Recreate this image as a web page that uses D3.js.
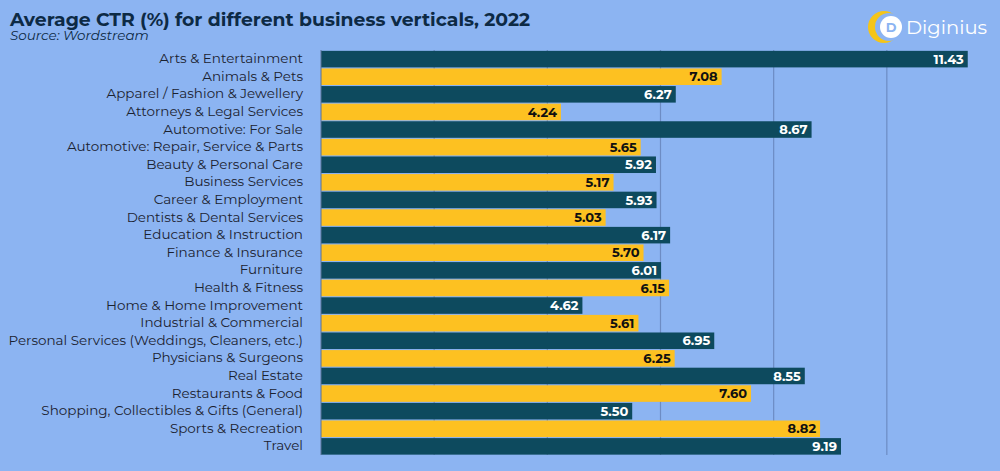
<!DOCTYPE html>
<html><head><meta charset="utf-8">
<script src="https://cdn.jsdelivr.net/npm/d3@7"></script>
<style>
html,body{margin:0;padding:0;background:#8cb4f2;}
svg{display:block;}
</style></head><body>
<svg id="chart" width="1000" height="471"></svg>
<script>
const categories = ["Arts & Entertainment","Animals & Pets","Apparel / Fashion & Jewellery","Attorneys & Legal Services","Automotive: For Sale","Automotive: Repair, Service & Parts","Beauty & Personal Care","Business Services","Career & Employment","Dentists & Dental Services","Education & Instruction","Finance & Insurance","Furniture","Health & Fitness","Home & Home Improvement","Industrial & Commercial","Personal Services (Weddings, Cleaners, etc.)","Physicians & Surgeons","Real Estate","Restaurants & Food","Shopping, Collectibles & Gifts (General)","Sports & Recreation","Travel"];
const values = [11.43,7.08,6.27,4.24,8.67,5.65,5.92,5.17,5.93,5.03,6.17,5.70,6.01,6.15,4.62,5.61,6.95,6.25,8.55,7.60,5.50,8.82,9.19];
const gridTicks = [2,4,6,8,10];

const svg = d3.select("#chart");
const font = "Montserrat, 'Noto Sans', 'Open Sans', sans-serif";
const x = d3.scaleLinear().domain([0,12]).range([321,1000]);
const y = d3.scaleBand().domain(categories).range([50.5,455]).paddingInner(0.06).paddingOuter(0.02);

svg.append("rect").attr("width",1000).attr("height",471).attr("fill","#8cb4f2");

// gridlines
svg.append("g").selectAll("line").data(gridTicks).join("line")
  .attr("x1",d=>x(d)).attr("x2",d=>x(d)).attr("y1",50).attr("y2",455)
  .attr("stroke","#6d8cc4").attr("stroke-width",1.2);

// bars
svg.append("g").selectAll("rect").data(values).join("rect")
  .attr("x",x(0)).attr("y",(d,i)=>y(categories[i]))
  .attr("width",d=>x(d)-x(0)).attr("height",y.bandwidth())
  .attr("fill",(d,i)=>i%2===0?"#0d4a5e":"#fdc121");

// axis line
svg.append("line").attr("x1",x(0)).attr("x2",x(0)).attr("y1",50).attr("y2",455)
  .attr("stroke","#5b7396").attr("stroke-width",1);

// value labels
svg.append("g").selectAll("text").data(values).join("text")
  .attr("x",d=>x(d)-4).attr("y",(d,i)=>y(categories[i])+y.bandwidth()/2)
  .attr("dy","0.36em").attr("text-anchor","end")
  .attr("font-family",font).attr("font-weight","bold").attr("font-size",13)
  .attr("fill",(d,i)=>i%2===0?"#ffffff":"#111111")
  .text(d=>d.toFixed(2));

// category labels
svg.append("g").selectAll("text").data(categories).join("text")
  .attr("x",303).attr("y",d=>y(d)+y.bandwidth()/2)
  .attr("dy","0.3em").attr("text-anchor","end")
  .attr("font-family",font).attr("font-size",13.5).attr("fill","#1b2230")
  .text(d=>d);

// title
svg.append("text").attr("x",10).attr("y",26)
  .attr("font-family",font).attr("font-weight","bold").attr("font-size",18.8)
  .attr("fill","#0d2a45").text("Average CTR (%) for different business verticals, 2022");
svg.append("text").attr("x",10).attr("y",40)
  .attr("font-family",font).attr("font-style","italic").attr("font-size",13.5)
  .attr("fill","#0d2a45").text("Source: Wordstream");

// logo
const lg = svg.append("g");
lg.append("circle").attr("cx",884).attr("cy",27).attr("r",16).attr("fill","#f5c518");
lg.append("circle").attr("cx",889).attr("cy",27).attr("r",14).attr("fill","#8cb4f2");
lg.append("circle").attr("cx",891).attr("cy",27).attr("r",11).attr("fill","#ffffff");
lg.append("text").attr("x",891).attr("y",27).attr("dy","0.36em").attr("text-anchor","middle")
  .attr("font-family",font).attr("font-weight","bold").attr("font-size",13).attr("fill","#8cb4f2").text("D");
lg.append("text").attr("x",906).attr("y",34)
  .attr("font-family",font).attr("font-size",19.5).attr("fill","#ffffff").text("Diginius");
</script>
</body></html>
